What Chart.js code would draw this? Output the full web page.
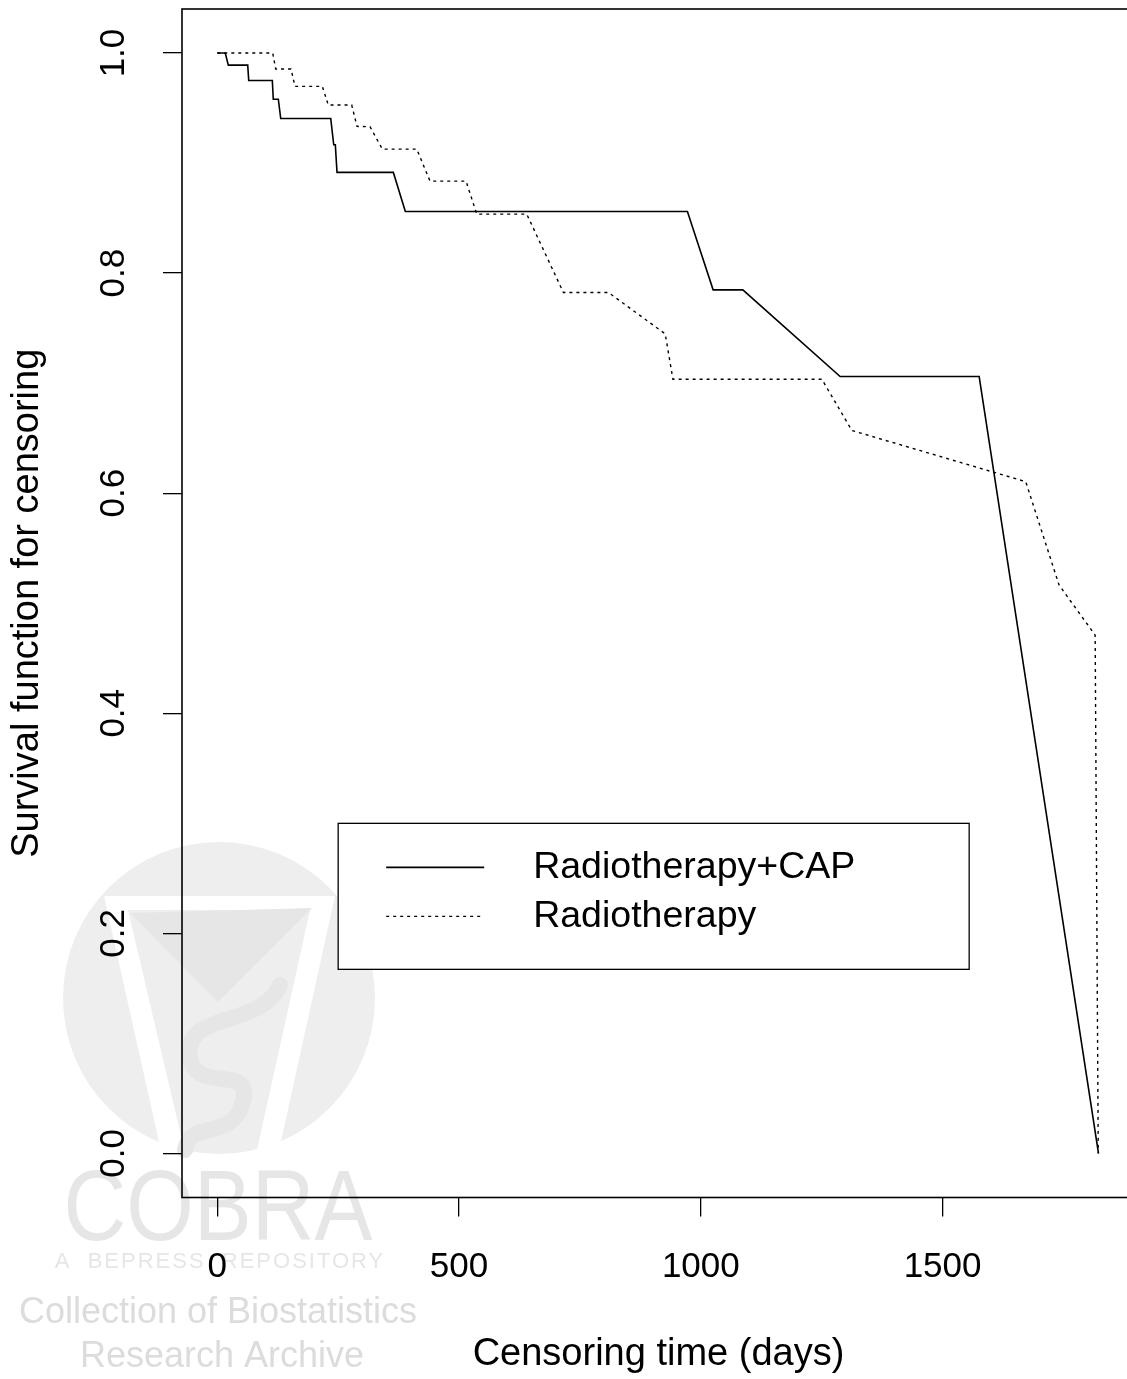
<!DOCTYPE html>
<html>
<head>
<meta charset="utf-8">
<script src="https://cdn.jsdelivr.net/npm/chart.js@4/dist/chart.umd.min.js"></script>
<style>
html,body{margin:0;padding:0;background:#fff;overflow:hidden;width:1127px;height:1379px;}
#wrap{position:absolute;left:0;top:0;width:1140px;height:1379px;}
</style>
</head>
<body>
<div id="wrap"><canvas id="c" width="1140" height="1379"></canvas></div>
<script>
// ---- data ----
const capTime = [0, 16.5, 22.8, 62.9, 65, 113.8, 115.8, 126.2, 131.2, 234.6, 240.8, 244.1, 247.6, 364.1, 388.9, 972.3, 1025.5, 1086.9, 1288.2, 1575.7, 1822.5];
const capSurv = [1, 1, 0.989, 0.989, 0.975, 0.975, 0.958, 0.958, 0.9405, 0.9405, 0.9166, 0.9166, 0.8915, 0.8915, 0.856, 0.856, 0.7848, 0.7848, 0.706, 0.706, 0];
const radTime = [0, 114.6, 120.8, 152.5, 160.7, 217.2, 229.6, 278, 289, 315.9, 341.3, 412.5, 440, 514.5, 536.6, 640, 715.8, 809, 926.4, 942.3, 1250.3, 1312.4, 1672, 1740.9, 1815.6, 1822];
const radSurv = [1, 1, 0.9855, 0.9855, 0.9697, 0.9697, 0.9527, 0.9527, 0.9333, 0.933, 0.9127, 0.9127, 0.8836, 0.8836, 0.8536, 0.8536, 0.7824, 0.7824, 0.7448, 0.7036, 0.7036, 0.657, 0.6105, 0.5166, 0.471, 0];
const seriesNames = ['Radiotherapy+CAP', 'Radiotherapy'];
const xTicks = [0, 500, 1000, 1500];
const xTickLabels = ['0', '500', '1000', '1500'];
const yTicks = [0, 0.2, 0.4, 0.6, 0.8, 1.0];
const yTickLabels = ['0.0', '0.2', '0.4', '0.6', '0.8', '1.0'];
const xTitle = 'Censoring time (days)';
const yTitle = 'Survival function for censoring';
const legendAnchor = [250, 0.3];
const watermarkLines = ['COBRA', 'A  BEPRESS  REPOSITORY', 'Collection of Biostatistics', 'Research Archive'];

const FONT = '"Liberation Sans", Arial, sans-serif';

function pts(t, s) { return t.map((v, i) => ({x: v, y: s[i]})); }

const rPlugin = {
  id: 'rstyle',
  beforeDraw(chart) {
    const ctx = chart.ctx;
    ctx.save();
    ctx.fillStyle = '#fff';
    ctx.fillRect(0, 0, chart.width, chart.height);
    // watermark logo
    const cx = 219, cy = 998, r = 156;
    ctx.fillStyle = '#eeeeee';
    ctx.beginPath(); ctx.arc(cx, cy, r, 0, Math.PI * 2); ctx.fill();
    ctx.fillStyle = '#fff';
    ctx.beginPath();
    ctx.moveTo(104, 896); ctx.lineTo(335, 896); ctx.lineTo(268, 1200); ctx.lineTo(246, 1200);
    ctx.lineTo(310, 910); ctx.lineTo(128, 910); ctx.lineTo(196, 1200); ctx.lineTo(172, 1200);
    ctx.closePath(); ctx.fill();
    ctx.fillStyle = '#e6e6e6';
    ctx.beginPath();
    ctx.moveTo(130, 913); ctx.lineTo(312, 908); ctx.lineTo(218, 1002); ctx.closePath(); ctx.fill();
    // snake-like S
    ctx.strokeStyle = '#e6e6e6'; ctx.lineWidth = 16; ctx.lineCap = 'round';
    ctx.beginPath();
    ctx.moveTo(280, 985);
    ctx.bezierCurveTo(260, 1030, 180, 1010, 190, 1060);
    ctx.bezierCurveTo(200, 1095, 260, 1060, 240, 1110);
    ctx.bezierCurveTo(225, 1140, 190, 1120, 185, 1150);
    ctx.stroke();
    // watermark text
    ctx.fillStyle = '#e6e6e6';
    ctx.textAlign = 'center'; ctx.textBaseline = 'alphabetic';
    ctx.save();
    ctx.translate(218, 1240);
    ctx.scale(0.86, 1);
    ctx.font = '101px ' + FONT;
    ctx.fillText(watermarkLines[0], 0, 0);
    ctx.restore();
    ctx.font = '22px ' + FONT;
    try { ctx.letterSpacing = '2px'; } catch (e) {}
    ctx.fillText(watermarkLines[1], 220, 1268);
    try { ctx.letterSpacing = '0px'; } catch (e) {}
    ctx.fillStyle = '#dcdcdc';
    ctx.font = '36px ' + FONT;
    ctx.fillText(watermarkLines[2], 218, 1323);
    ctx.fillText(watermarkLines[3], 222, 1367);
    ctx.restore();
  },
  afterDraw(chart) {
    const ctx = chart.ctx;
    const a = chart.chartArea;
    const xs = chart.scales.x, ys = chart.scales.y;
    ctx.save();
    // box
    ctx.strokeStyle = '#000'; ctx.lineWidth = 1.6;
    ctx.strokeRect(a.left, a.top, a.right - a.left, a.bottom - a.top);
    // tick labels
    ctx.fillStyle = '#000';
    ctx.font = '35px ' + FONT;
    ctx.textAlign = 'center'; ctx.textBaseline = 'middle';
    xTicks.forEach((v, i) => ctx.fillText(xTickLabels[i], xs.getPixelForValue(v), 1267));
    yTicks.forEach((v, i) => {
      ctx.save();
      ctx.translate(114, ys.getPixelForValue(v));
      ctx.rotate(-Math.PI / 2);
      ctx.fillText(yTickLabels[i], 0, 0);
      ctx.restore();
    });
    // axis titles
    ctx.font = '38px ' + FONT;
    ctx.fillText(xTitle, (a.left + a.right) / 2, 1355);
    ctx.save();
    ctx.translate(28, (a.top + a.bottom) / 2);
    ctx.rotate(-Math.PI / 2);
    ctx.fillText(yTitle, 0, 0);
    ctx.restore();
    // legend
    const lx = xs.getPixelForValue(legendAnchor[0]);
    const ly = ys.getPixelForValue(legendAnchor[1]);
    ctx.fillStyle = '#fff';
    ctx.fillRect(lx, ly, 631, 146);
    ctx.strokeStyle = '#000'; ctx.lineWidth = 1.3;
    ctx.strokeRect(lx, ly, 631, 146);
    chart.data.datasets.forEach((ds, i) => {
      const y = ly + 44 + i * 49;
      ctx.strokeStyle = '#000';
      ctx.lineWidth = ds.borderWidth;
      ctx.setLineDash(ds.borderDash || []);
      ctx.beginPath(); ctx.moveTo(lx + 48, y); ctx.lineTo(lx + 146, y); ctx.stroke();
      ctx.setLineDash([]);
      ctx.fillStyle = '#000';
      ctx.textAlign = 'left'; ctx.textBaseline = 'middle';
      ctx.font = '37.5px ' + FONT;
      ctx.fillText(ds.label, lx + 195, y);
    });
    ctx.restore();
  }
};

new Chart(document.getElementById('c'), {
  type: 'line',
  data: {
    datasets: [
      {label: seriesNames[0], data: pts(capTime, capSurv), borderColor: '#000', borderWidth: 1.6, pointRadius: 0, tension: 0, fill: false},
      {label: seriesNames[1], data: pts(radTime, radSurv), borderColor: '#000', borderWidth: 1.4, borderDash: [3, 4], pointRadius: 0, tension: 0, fill: false}
    ]
  },
  options: {
    responsive: false,
    animation: false,
    layout: {padding: {top: 9, right: 5, left: 0, bottom: 0}},
    plugins: {legend: {display: false}, tooltip: {enabled: false}},
    scales: {
      x: {
        type: 'linear', min: -73, max: 1898,
        afterBuildTicks: s => { s.ticks = xTicks.map(v => ({value: v})); },
        afterFit: s => { s.height = 181.5; },
        ticks: {display: false},
        grid: {drawOnChartArea: false, drawTicks: true, tickLength: 19, color: '#000', lineWidth: 1.3},
        border: {display: false}
      },
      y: {
        type: 'linear', min: -0.04, max: 1.04,
        afterBuildTicks: s => { s.ticks = yTicks.map(v => ({value: v})); },
        afterFit: s => { s.width = 182; },
        ticks: {display: false},
        grid: {drawOnChartArea: false, drawTicks: true, tickLength: 19, color: '#000', lineWidth: 1.3},
        border: {display: false}
      }
    }
  },
  plugins: [rPlugin]
});
</script>
</body>
</html>
